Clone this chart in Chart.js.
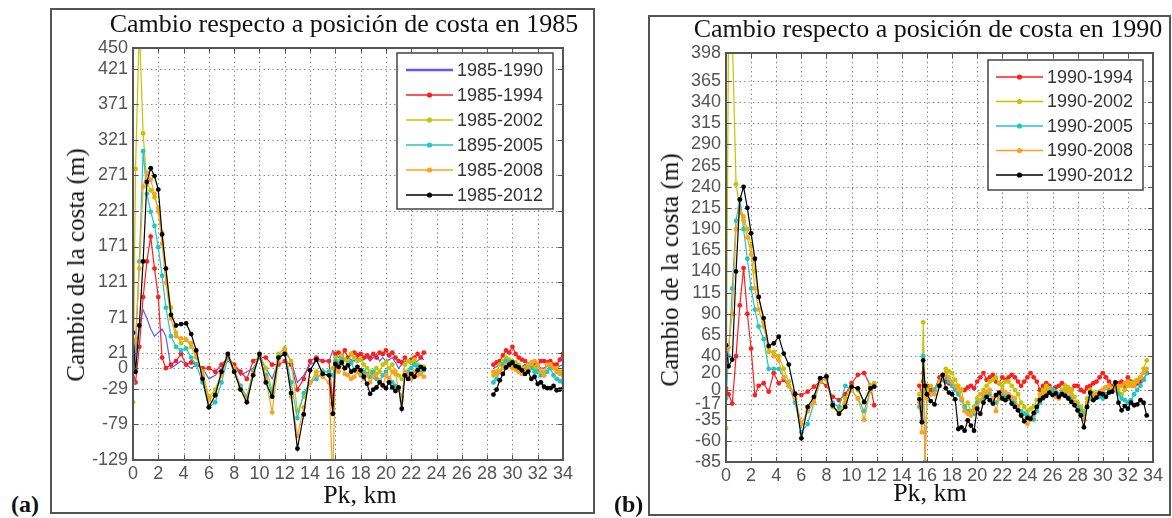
<!DOCTYPE html>
<html lang="es">
<head>
<meta charset="UTF-8">
<title>Cambio de la costa</title>
<script src="https://cdn.jsdelivr.net/npm/chart.js"></script>
<style>
  body { margin: 0; width: 1172px; height: 518px; background: #fff; position: relative; overflow: hidden;
         font-family: "Liberation Serif", "Times New Roman", serif; color: #111; }
  .frame { position: absolute; border: 2px solid #555; box-sizing: border-box; }
  .txt { position: absolute; white-space: nowrap; line-height: 24px; }
  .title { font-size: 26px; transform: translateX(-50%); }
  .ylab { font-size: 25px; transform: translate(-50%, -50%) rotate(-90deg); }
  .xlab { font-size: 26px; transform: translateX(-50%); }
  .tag { font-size: 24px; font-weight: bold; }
  canvas { position: absolute; }
</style>
</head>
<body>
  <!-- panel frames -->
  <div class="frame" style="left:50px; top:8px; width:545px; height:506px;"></div>
  <div class="frame" style="left:648px; top:15px; width:523px; height:501px;"></div>

  <canvas id="chartA" width="540" height="500" style="left:52px; top:10px;"></canvas>
  <canvas id="chartB" width="518" height="496" style="left:650px; top:17px;"></canvas>

  <!-- texts -->
  <div class="txt title" style="left:344px; top:12px;">Cambio respecto a posición de costa en 1985</div>
  <div class="txt title" style="left:928px; top:17px;">Cambio respecto a posición de costa en 1990</div>
  <div class="txt ylab" style="left:76px; top:265px;">Cambio de la costa (m)</div>
  <div class="txt ylab" style="left:670px; top:270px;">Cambio de la costa (m)</div>
  <div class="txt xlab" style="left:360px; top:483px;">Pk, km</div>
  <div class="txt xlab" style="left:930px; top:481px;">Pk, km</div>
  <div class="txt tag" style="left:11px; top:492px;">(a)</div>
  <div class="txt tag" style="left:614px; top:492px;">(b)</div>

<script>
// ---- panel (a): change relative to the 1985 shoreline ----
const pkA = [0,0.2,0.5,0.8,1.1,1.4,1.7,2.0,2.3,2.6,
  3.0,3.4,3.8,4.2,4.6,5.0,
  5.5,6.0,6.5,7.0,7.5,8.0,8.5,9.0,9.5,10.0,
  10.5,11.0,11.5,12.0,12.5,13.0,13.5,14.0,14.5,15.0,
  15.5,15.8,
  16.0,16.25,16.5,16.75,17.0,17.25,17.5,17.75,
  18.0,18.25,18.5,18.75,19.0,19.25,19.5,19.75,
  20.0,20.25,20.5,20.75,21.0,21.25,21.5,21.75,
  22.0,22.25,22.5,22.75,23.0,
  25.0,
  28.5,28.75,29.0,29.25,29.5,29.75,30.0,30.25,30.5,30.75,
  31.0,31.25,31.5,31.75,32.0,32.25,32.5,32.75,33.0,33.25,
  33.5,33.75,34.0];

const a1990 = [-5,20,60,82,70,55,45,50,55,45,
  0,5,10,5,0,5,
  0,-15,-10,0,10,5,-10,-5,0,15,
  0,-15,10,25,10,-20,-10,5,10,10,
  10,25,
  20,15,18,10,15,12,10,15,
  10,12,15,10,15,20,10,15,
  10,12,15,8,0,5,10,12,
  5,8,10,15,12,
  null,
  0,2,5,10,15,12,10,8,5,2,
  5,0,0,5,5,0,0,5,10,5,
  0,3,5];

const a1994 = [-5,-20,30,100,150,185,140,100,15,0,
  5,10,20,5,8,5,
  0,0,-5,5,15,5,-5,-15,10,15,
  15,5,5,10,5,-30,-15,10,15,10,
  10,-50,
  20,22,18,25,15,20,22,18,
  20,15,18,15,20,15,22,20,
  25,18,22,15,10,8,15,10,
  12,15,20,15,22,
  null,
  5,8,10,18,25,22,30,20,15,12,
  10,5,5,8,5,10,10,8,10,5,
  5,12,20];

const a2002 = [-48,280,480,330,260,250,240,225,190,140,
  85,50,35,40,30,15,
  -5,-40,-30,-8,20,0,-25,-40,-5,20,
  0,-30,20,28,10,-60,-40,-20,-5,-5,
  -5,0,
  15,10,18,12,10,20,15,10,
  12,5,0,-5,-8,0,-5,5,
  8,0,5,-5,-10,-15,5,10,
  8,12,5,0,2,
  null,
  -10,-5,5,10,15,12,10,8,5,0,
  0,5,5,0,0,-5,-5,5,5,0,
  0,-5,-5];

const a2005 = [-20,30,150,305,245,220,200,170,130,85,
  45,30,25,28,15,5,
  -20,-55,-48,-20,15,-5,-25,-42,-5,15,
  -10,-35,15,25,-20,-70,-35,-20,-15,-5,
  -5,-10,
  10,5,12,0,5,8,-2,-5,
  -10,-5,-8,-12,-5,-15,-18,-10,
  -5,-15,-20,-25,-30,-40,-10,-5,
  0,5,2,-5,-3,
  null,
  -20,-15,-5,5,10,8,5,2,-3,-5,
  -3,0,0,-5,-5,-10,-10,-5,0,-10,
  -15,-18,-20];

const a2008 = [-5,40,140,255,275,265,245,220,175,120,
  70,45,42,40,35,20,
  -10,-45,-35,-10,18,-5,-28,-45,-8,18,
  -15,-62,10,25,-40,-95,-55,-20,-10,-12,
  -20,-160,
  0,-5,5,-8,-10,-15,-12,-5,
  -8,-15,-10,-20,-12,-8,-18,-25,
  -10,-15,-5,-8,-30,-45,-5,-10,
  -15,-5,-10,-8,-12,
  null,
  -5,-8,-5,0,5,3,0,-2,-5,-8,
  -5,0,8,10,5,-5,-10,5,5,0,
  -5,-8,-10];

const a2012 = [50,-5,60,150,262,281,270,251,188,140,
  75,60,62,63,48,25,
  -15,-55,-38,-5,20,-5,-30,-48,-10,20,
  -20,-40,15,20,-35,-113,-65,-3,12,-8,
  -10,-64,
  6,2,8,0,4,-5,-3,2,
  -3,-12,-22,-36,-30,-27,-20,-24,
  -28,-20,-27,-32,-27,-57,-10,-15,
  -8,-12,-3,2,-1,
  null,
  -37,-30,-17,-8,1,5,8,3,1,-3,
  -8,-5,-15,-12,-22,-20,-26,-28,-28,-25,
  -31,-30,-29];

const labelsA = ['1985-1990','1985-1994','1985-2002','1895-2005','1985-2008','1985-2012'];
const yTicksA = [-129,-79,-29,0,21,71,121,171,221,271,321,371,421,450];

// ---- panel (b): change relative to the 1990 shoreline ----
const pkB = [0,0.2,0.5,0.8,1.1,1.4,1.7,2.0,2.3,2.6,
  3.0,3.4,3.8,4.2,4.6,5.0,5.5,6.0,6.5,7.0,
  7.5,8.0,8.5,9.0,9.5,10.0,10.5,11.0,11.5,11.8,
  13.5,
  15.4,15.6,15.7,15.85,16.0,16.3,16.6,
  17.0,17.25,17.5,17.75,18.0,18.25,18.5,18.75,
  19.0,19.25,19.5,19.75,20.0,20.25,20.5,20.75,
  21.0,21.25,21.5,21.75,22.0,22.25,22.5,22.75,
  23.0,23.25,23.5,23.75,24.0,24.25,24.5,24.75,
  25.0,25.25,25.5,25.75,26.0,26.25,26.5,26.75,
  27.0,27.25,27.5,27.75,28.0,28.25,28.5,28.75,
  29.0,29.25,29.5,29.75,30.0,30.25,30.5,30.75,
  31.0,31.25,31.5,31.75,32.0,32.25,32.5,32.75,
  33.0,33.25,33.5];

const b1994 = [2,-5,-16,40,100,144,90,49,-6,5,
  8,-2,20,8,12,5,-4,-6,-2,4,
  10,5,-8,-12,-5,8,18,20,5,-18,
  null,
  5,-5,10,0,5,0,0,
  15,12,10,8,5,2,-2,0,
  0,3,5,2,10,15,20,12,
  15,18,10,8,15,12,15,18,
  15,10,5,10,15,20,15,10,
  0,5,8,5,0,3,5,8,
  5,2,0,5,5,0,-2,3,
  5,8,10,15,20,15,10,5,
  5,8,10,5,15,10,5,8,
  10,12,20];

const b2002 = [-45,420,420,243,215,205,190,170,140,110,
  80,45,45,40,25,10,-10,-40,-25,-10,
  12,12,-20,-25,-10,5,0,-15,5,8,
  null,
  -5,-20,80,-5,0,5,0,
  10,15,25,22,20,12,5,0,
  -20,-15,-25,-20,-10,-5,0,5,
  10,12,15,8,5,10,10,5,
  0,-5,-15,-20,-25,-22,-20,-12,
  -5,0,5,2,0,-3,-5,0,
  5,3,0,-8,-15,-20,-25,-10,
  0,-3,-5,-2,0,3,5,2,
  5,0,-5,0,5,8,10,12,
  15,25,35];

const b2005 = [-10,40,120,200,225,190,155,120,95,75,
  60,25,25,25,15,5,-15,-50,-40,-15,
  10,15,-15,-20,5,0,-10,-25,0,5,
  null,
  -20,-35,40,-85,-5,-5,0,
  10,12,15,10,5,0,-5,-12,
  -20,-25,-30,-28,-15,-12,-10,-8,
  -5,-10,-15,-8,-5,-8,-10,-12,
  -15,-20,-25,-28,-30,-33,-35,-25,
  -15,-10,-5,-3,0,-2,-5,-3,
  -5,-8,-10,-15,-20,-25,-30,-20,
  -10,-8,-5,-8,-10,-5,0,2,
  0,-5,-10,-12,-15,-12,-5,0,
  5,12,20];

const b2008 = [20,50,90,190,210,200,180,160,120,95,
  75,50,40,35,15,5,-10,-40,-25,-15,
  10,15,-20,-28,-15,0,-10,-35,0,5,
  null,
  -15,-50,20,-90,-10,-5,-5,
  10,15,20,15,10,5,0,-10,
  -25,-28,-30,-25,-20,-12,-5,-2,
  0,-10,-25,-10,0,-3,-5,-8,
  -10,-20,-30,-35,-40,-35,-30,-20,
  -10,-5,0,-3,-5,-8,-10,-5,
  0,-2,-5,-15,-25,-30,-35,-15,
  -5,-8,-5,-2,0,3,5,2,
  0,5,5,8,10,5,5,10,
  15,20,25];

const b2012 = [53,28,36,140,225,240,215,185,155,110,
  85,52,55,63,43,30,-5,-57,-20,-8,
  14,16,-18,-28,-20,4,2,-14,2,4,
  null,
  -11,-38,35,5,-5,-13,-17,
  5,18,2,-3,-5,-11,-46,-44,
  -48,-36,-42,-48,-22,-28,-15,-8,
  -12,-16,-6,-3,-10,-12,-8,-16,
  -20,-24,-30,-37,-33,-34,-27,-20,
  -12,-9,-7,-3,-6,-4,-8,-5,
  -7,-10,-14,-18,-24,-30,-44,-20,
  -3,-12,-9,-4,-5,-8,-3,-2,
  9,-15,-24,-19,-22,-15,-18,-17,
  -12,-15,-30];

const labelsB = ['1990-1994','1990-2002','1990-2005','1990-2008','1990-2012'];
const yTicksB = [-85,-60,-35,-17,0,20,40,65,90,115,140,165,190,215,240,265,290,315,340,365,398];

const xTicks = [0,2,4,6,8,10,12,14,16,18,20,22,24,26,28,30,32,34];

// colours (matlab-ish)
const BLUE = '#5a5aff', RED = '#ff1e1e', YELLOW = '#c4c400', CYAN = '#1fc6c6', ORANGE = '#ffa01e', BLACK = '#000000';

function pts(pk, vals) {
  return pk.map((x, i) => ({ x: x, y: vals[i] }));
}

function series(label, pk, vals, color, marker, n, i) {
  return {
    label: label,
    data: pts(pk, vals),
    borderColor: color,
    backgroundColor: color,
    borderWidth: 1.2,
    pointRadius: marker ? 2.4 : 0,
    pointBorderWidth: 0,
    pointBackgroundColor: color,
    order: n - i,   // later series on top, like matlab
    spanGaps: false
  };
}

// dotted grid, axes box, inside tick marks and the boxed legend
const boxPlugin = {
  id: 'box',
  beforeDatasetsDraw(chart) {
    const ctx = chart.ctx, a = chart.chartArea, sx = chart.scales.x, sy = chart.scales.y;
    ctx.save();
    ctx.strokeStyle = '#8c8c8c';
    ctx.lineWidth = 1;
    ctx.setLineDash([1.5, 3]);
    ctx.beginPath();
    sx.ticks.forEach(t => {
      const p = Math.round(sx.getPixelForValue(t.value)) + 0.5;
      ctx.moveTo(p, a.top); ctx.lineTo(p, a.bottom);
    });
    sy.ticks.forEach(t => {
      const p = Math.round(sy.getPixelForValue(t.value)) + 0.5;
      ctx.moveTo(a.left, p); ctx.lineTo(a.right, p);
    });
    ctx.stroke();
    ctx.restore();
  },
  afterDraw(chart, args, opts) {
    const ctx = chart.ctx, a = chart.chartArea, sx = chart.scales.x, sy = chart.scales.y;
    ctx.save();
    ctx.strokeStyle = '#555';
    ctx.lineWidth = 1;
    ctx.beginPath();
    sx.ticks.forEach(t => {
      const p = Math.round(sx.getPixelForValue(t.value)) + 0.5;
      ctx.moveTo(p, a.bottom); ctx.lineTo(p, a.bottom - 5);
      ctx.moveTo(p, a.top); ctx.lineTo(p, a.top + 5);
    });
    sy.ticks.forEach(t => {
      const p = Math.round(sy.getPixelForValue(t.value)) + 0.5;
      ctx.moveTo(a.left, p); ctx.lineTo(a.left + 5, p);
      ctx.moveTo(a.right, p); ctx.lineTo(a.right - 5, p);
    });
    ctx.stroke();
    ctx.lineWidth = 2;
    ctx.strokeRect(a.left, a.top, a.right - a.left, a.bottom - a.top);

    // legend
    const L = opts.legend;
    ctx.fillStyle = '#fff';
    ctx.fillRect(L.x, L.y, L.w, L.h);
    ctx.lineWidth = 1.5;
    ctx.strokeStyle = '#444';
    ctx.strokeRect(L.x, L.y, L.w, L.h);
    ctx.font = '18px "Liberation Sans", Arial, sans-serif';
    ctx.textBaseline = 'middle';
    ctx.textAlign = 'left';
    chart.data.datasets.forEach((ds, i) => {
      const y = L.row0 + i * L.step;
      ctx.strokeStyle = ds.borderColor;
      ctx.lineWidth = ds.pointRadius > 0 ? 1.5 : 2.5;
      ctx.beginPath();
      ctx.moveTo(L.lx0, y); ctx.lineTo(L.lx1, y);
      ctx.stroke();
      if (ds.pointRadius > 0) {
        ctx.fillStyle = ds.borderColor;
        ctx.beginPath();
        ctx.arc((L.lx0 + L.lx1) / 2, y, 2.6, 0, Math.PI * 2);
        ctx.fill();
      }
      ctx.fillStyle = '#333';
      ctx.fillText(ds.label, L.tx, y + 1);
    });
    ctx.restore();
  }
};

function makePanel(id, datasets, yTicks, pad, yWidth, xHeight, legend) {
  const tickFont = { family: '"Liberation Sans", Arial, sans-serif', size: 18 };
  return new Chart(document.getElementById(id), {
    type: 'line',
    data: { datasets: datasets },
    options: {
      responsive: false,
      animation: false,
      devicePixelRatio: 1,
      layout: { padding: pad },
      plugins: {
        legend: { display: false },
        tooltip: { enabled: false },
        box: { legend: legend }
      },
      scales: {
        x: {
          type: 'linear',
          min: 0, max: 34,
          afterBuildTicks: s => { s.ticks = xTicks.map(v => ({ value: v })); },
          afterFit: s => { s.height = xHeight; },
          ticks: { color: '#555', font: tickFont, padding: 3, autoSkip: false, maxRotation: 0 },
          grid: { display: false, drawTicks: false },
          border: { display: false }
        },
        y: {
          type: 'linear',
          min: yTicks[0], max: yTicks[yTicks.length - 1],
          afterBuildTicks: s => { s.ticks = yTicks.map(v => ({ value: v })); },
          afterFit: s => { s.width = yWidth; },
          ticks: { color: '#555', font: tickFont, padding: 5, autoSkip: false },
          grid: { display: false, drawTicks: false },
          border: { display: false }
        }
      }
    },
    plugins: [boxPlugin]
  });
}

const colorsA = [BLUE, RED, YELLOW, CYAN, ORANGE, BLACK];
const valsA = [a1990, a1994, a2002, a2005, a2008, a2012];
const dsA = valsA.map((v, i) => series(labelsA[i], pkA, v, colorsA[i], i > 0, valsA.length, i));

const colorsB = [RED, YELLOW, CYAN, ORANGE, BLACK];
const valsB = [b1994, b2002, b2005, b2008, b2012];
const dsB = valsB.map((v, i) => series(labelsB[i], pkB, v, colorsB[i], true, valsB.length, i));

makePanel('chartA', dsA, yTicksA, { top: 38, right: 29, left: 0, bottom: 0 }, 81, 50,
  { x: 345, y: 43, w: 156, h: 156, row0: 60, step: 25, lx0: 354, lx1: 401, tx: 405 });

makePanel('chartB', dsB, yTicksB, { top: 36, right: 15, left: 0, bottom: 0 }, 76, 51,
  { x: 338, y: 43, w: 155, h: 130, row0: 60, step: 24.5, lx0: 346, lx1: 393, tx: 397 });
</script>
</body>
</html>
